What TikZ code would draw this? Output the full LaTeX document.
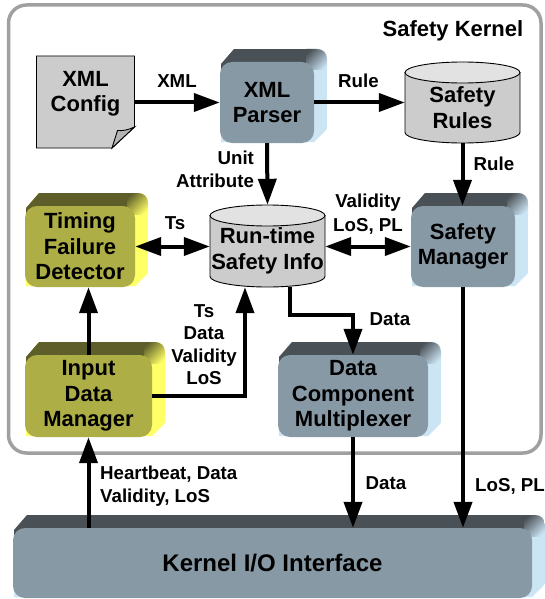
\documentclass[tikz,border=0pt]{standalone}
\usepackage{fontspec}
\setmainfont{Liberation Sans}
\usetikzlibrary{arrows.meta,calc}
\definecolor{bluefront}{HTML}{8899A6}
\definecolor{bluetop}{HTML}{4A5156}
\definecolor{blueside}{HTML}{CCE5F5}
\definecolor{olivefront}{HTML}{AEAE46}
\definecolor{olivetop}{HTML}{5E5E2A}
\definecolor{oliveside}{HTML}{FFFF66}
\definecolor{cylbody}{HTML}{CCCCCC}
\definecolor{cyltop}{HTML}{E2E2E2}
\definecolor{kernelline}{HTML}{A0A0A0}
\definecolor{foldgray}{HTML}{B4B4B4}
\tikzset{
  boxtext/.style={font=\bfseries\fontsize{22}{25.5}\selectfont,align=center,text=black},
  edgelabel/.style={font=\bfseries\fontsize{18.7}{22.5}\selectfont,align=center,text=black,inner sep=0pt},
  flow/.style={line width=4pt,draw=black,>={Triangle[length=26pt,width=18pt]}},
  outline/.style={draw=black,line width=0.9pt},
}
% #1 name, #2-#5 front x1,y1,x2,y2, #6 colour prefix, #7 text, #8 font size style
\newcommand{\solidbox}[8][boxtext]{%
  \begin{scope}
    \clip (#3+1,#4+2) -- (#3+14,#4-13) -- (#5+3,#4-13)
      .. controls (#5+9,#4-13) and (#5+13,#4-9) .. (#5+13,#4-3)
      -- (#5+13,#6-14) -- (#5,#6-1) -- (#5,#6-1) -- (#3+1,#6-1) -- cycle;
    \fill[#7side] (#3,#4-13) rectangle (#5+13,#6);
    \fill[#7top] (#3,#4-13) rectangle (#5-6,#4+8);
    \shade[top color=#7top,bottom color=#7side,shading angle=45] (#5-8,#4-15) rectangle (#5+15,#4+8);
  \end{scope}
  \node[#1,fill=#7front,rounded corners=12pt,inner sep=0pt,
        minimum width={(#5-#3)*1pt},minimum height={(#6-#4)*1pt}]
        (#2) at ({(#3+#5)/2},{(#4+#6)/2}) {#8};%
}
% #1 name, #2 x1, #3 y1, #4 x2, #5 y2, #6 text
\newcommand{\drum}[6]{%
  \filldraw[outline,fill=cylbody] (#2,#3+10.5) -- (#2,#5-10.5)
     arc[start angle=180,end angle=360,x radius={(#4-#2)/2},y radius=-10.5]
     -- (#4,#3+10.5) -- cycle;
  \filldraw[outline,fill=cyltop] ({(#2+#4)/2},#3+10.5) ellipse[x radius={(#4-#2)/2},y radius=10.5];
  \node[inner sep=0pt,minimum width={(#4-#2)*1pt},minimum height={(#5-#3)*1pt}]
     (#1) at ({(#2+#4)/2},{(#3+#5)/2}) {};
  \node[boxtext,inner sep=0pt] (#1text) at ({(#2+#4)/2},{(#3+#5)/2+5}) {#6};%
}
\begin{document}
\begin{tikzpicture}[x=1pt,y=-1pt]
\useasboundingbox (0,0) rectangle (544,599);
\fill[white] (0,0) rectangle (544,599);
% enclosing kernel frame
\draw[kernelline,line width=3.5pt,rounded corners=18pt] (8.5,5) rectangle (541,453);
\node[font=\bfseries\fontsize{22}{25}\selectfont,inner sep=0pt] (title) at (453,31) {Safety Kernel};
% XML config page
\node[inner sep=0pt,minimum width=98pt,minimum height=92pt] (cfg) at (85.5,102) {};
\filldraw[outline,fill=cylbody] (36.5,56) -- (134.5,56) -- (134.5,127) -- (112,148) -- (36.5,148) -- cycle;
\filldraw[outline,fill=foldgray] (134.5,127) -- (112,148) -- (117.5,130.5) .. controls (123,131) and (128,130) .. (134.5,127) -- cycle;
\node[boxtext,inner sep=0pt] (cfgtext) at (85.5,94) {XML\\Config};
% solid boxes
\solidbox{parser}{220}{62}{314}{143}{blue}{XML\\Parser}
\solidbox{timing}{25}{206}{135}{287}{olive}{Timing\\Failure\\Detector}
\solidbox{manager}{411}{206}{515}{287}{blue}{Safety\\Manager}
\solidbox{input}{25}{355}{152}{437}{olive}{Input\\Data\\Manager}
\solidbox{mux}{278}{355}{428}{437}{blue}{Data\\Component\\Multiplexer}
\solidbox[boxtext,font=\bfseries\fontsize{24}{26}\selectfont]{kio}{13}{528}{532}{598}{blue}{Kernel I/O Interface}
% drums
\drum{rules}{405}{62}{520}{143}{Safety\\Rules}
\drum{run}{210}{205}{325}{287}{Run-time\\Safety Info}
% connectors
\coordinate (bend) at (320,315);
\draw[flow,->] (cfg.east |- parser.west) -- (parser.west);
\draw[flow,->] (parser.east) -- (rules.west |- parser.east);
\draw[flow,->] (parser.south) -- (run.north);
\draw[flow,->] (rules.south) -- (rules.south |- manager.north);
\draw[flow,<->] (timing.east) -- (run.west |- timing.east);
\draw[flow,<->] (run.east |- manager.west) -- (manager.west);
\draw[flow,->] (input.north) -- (input.north |- timing.south);
\draw[flow,->] (input.east) -| ([xshift=-22.5pt]run.south);
\draw[flow,->] ([xshift=22.5pt]run.south) |- (bend) -| (mux.north);
\draw[flow,->] (kio.north -| input.south) -- (input.south);
\draw[flow,->] (mux.south) -- (mux.south |- kio.north);
\draw[flow,->] (manager.south) -- (manager.south |- kio.north);
% labels
\node[edgelabel] (l1) at (177,81) {XML};
\node[edgelabel] (l2) at (358.5,81) {Rule};
\node[edgelabel,align=right] (l3) at (215,169.5) {Unit\\[0.5pt]Attribute};
\node[edgelabel] (l4) at (494,163.5) {Rule};
\node[edgelabel] (l5) at (175,223) {Ts};
\node[edgelabel] (l6) at (368,214.5) {Validity\\[1.5pt]LoS, PL};
\node[edgelabel] (l7) at (204,344.5) {Ts\\Data\\Validity\\LoS};
\node[edgelabel] (l8) at (390,319) {Data};
\node[edgelabel,align=left,anchor=west] (l9) at (100,486) {Heartbeat, Data\\Validity, LoS};
\node[edgelabel] (l10) at (386,483) {Data};
\node[edgelabel,anchor=west] (l11) at (475,486) {LoS, PL};
\end{tikzpicture}
\end{document}
